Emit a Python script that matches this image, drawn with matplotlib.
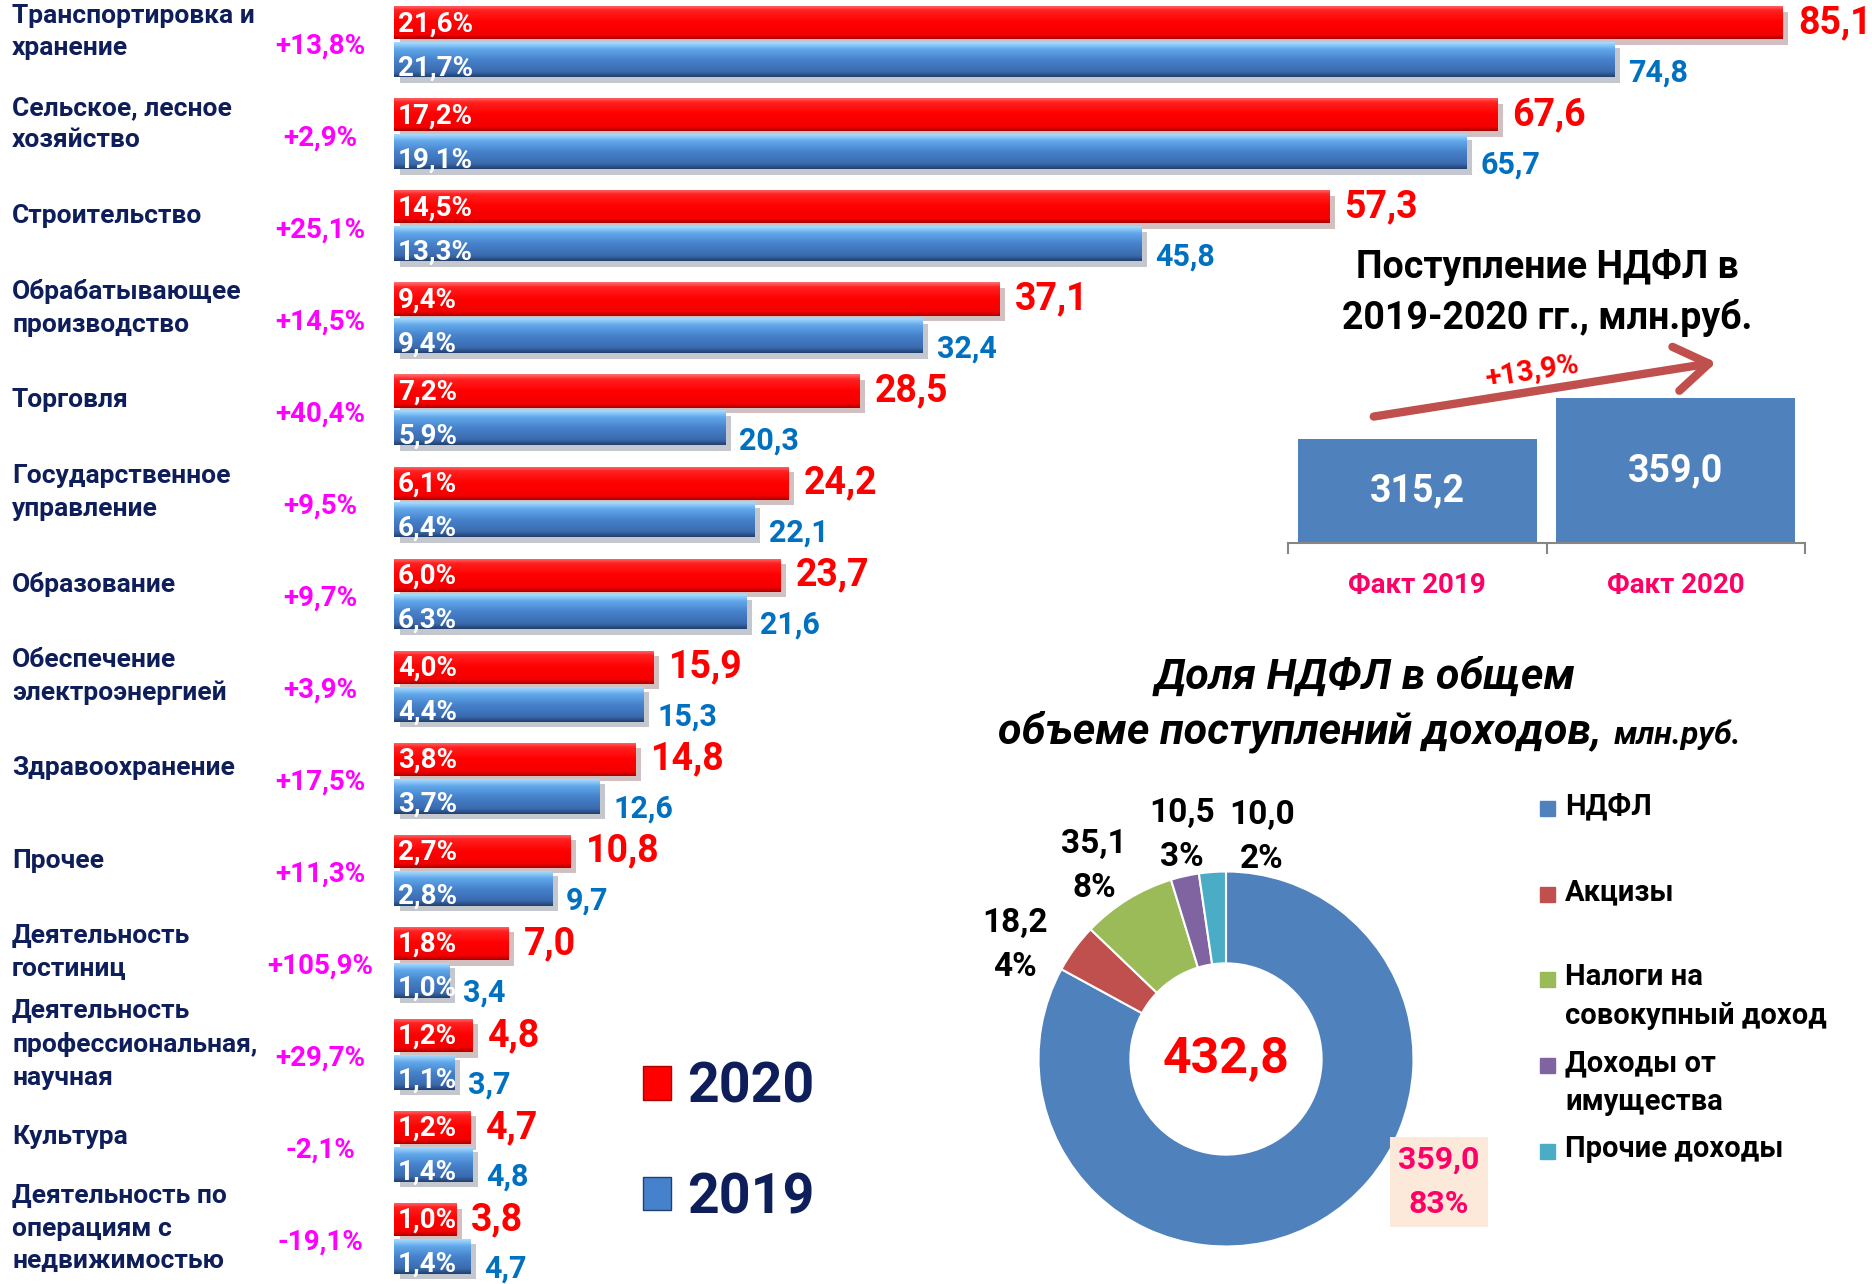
import numpy as np
import matplotlib
matplotlib.use('Agg')
import matplotlib.pyplot as plt
import matplotlib.patheffects as pe
from matplotlib.colors import LinearSegmentedColormap
from matplotlib.patches import Rectangle, FancyArrowPatch, Patch
from matplotlib.transforms import blended_transform_factory

# --- данные ---
otrasli = ['Транспортировка и\nхранение', 'Сельское, лесное\nхозяйство', 'Строительство',
           'Обрабатывающее\nпроизводство', 'Торговля', 'Государственное\nуправление',
           'Образование', 'Обеспечение\nэлектроэнергией', 'Здравоохранение', 'Прочее',
           'Деятельность\nгостиниц', 'Деятельность\nпрофессиональная,\nнаучная', 'Культура',
           'Деятельность по\nоперациям с\nнедвижимостью']
v2020 = [85.1, 67.6, 57.3, 37.1, 28.5, 24.2, 23.7, 15.9, 14.8, 10.8, 7.0, 4.8, 4.7, 3.8]
v2019 = [74.8, 65.7, 45.8, 32.4, 20.3, 22.1, 21.6, 15.3, 12.6, 9.7, 3.4, 3.7, 4.8, 4.7]
dolya2020 = [21.6, 17.2, 14.5, 9.4, 7.2, 6.1, 6.0, 4.0, 3.8, 2.7, 1.8, 1.2, 1.2, 1.0]
dolya2019 = [21.7, 19.1, 13.3, 9.4, 5.9, 6.4, 6.3, 4.4, 3.7, 2.8, 1.0, 1.1, 1.4, 1.4]
prirost = ['+13,8%', '+2,9%', '+25,1%', '+14,5%', '+40,4%', '+9,5%', '+9,7%', '+3,9%',
           '+17,5%', '+11,3%', '+105,9%', '+29,7%', '-2,1%', '-19,1%']

ndfl_let = ['Факт 2019', 'Факт 2020']
ndfl_val = [315.2, 359.0]
ndfl_rost = '+13,9%'

dohody = ['НДФЛ', 'Акцизы', 'Налоги на\nсовокупный доход', 'Доходы от\nимущества', 'Прочие доходы']
dohody_val = [359.0, 18.2, 35.1, 10.5, 10.0]
dohody_pct = ['83%', '4%', '8%', '3%', '2%']
dohody_itogo = '432,8'

W, H = 1872, 1284
SHRIFT = ['Roboto', 'DejaVu Sans']
NAVY = '#0e1e5a'


def fx(px):
    return px / W


def fy(py):
    return 1 - py / H


def zpt(v):
    return f'{v:.1f}'.replace('.', ',')


def gradient(ax, bar, cmap):
    # заливка столбца градиентом (как в PowerPoint)
    x0, y0 = bar.get_xy()
    w, h = bar.get_width(), bar.get_height()
    im = ax.imshow(np.linspace(0, 1, 100).reshape(-1, 1), extent=(x0, x0 + w, y0, y0 + h),
                   origin='lower', aspect='auto', cmap=cmap, interpolation='bilinear',
                   zorder=bar.get_zorder() + 0.05)
    im.set_clip_path(bar)


red_cmap = LinearSegmentedColormap.from_list('r', [(0, '#ff7070'), (0.15, '#ff2020'), (0.5, '#ff0000'),
                                                   (0.88, '#f20000'), (1, '#a80000')])
blue_cmap = LinearSegmentedColormap.from_list('b', [(0, '#a8dcff'), (0.2, '#62a8ea'), (0.5, '#4682cc'),
                                                    (0.85, '#3a6aae'), (1, '#22406e')])

fig = plt.figure(figsize=(W / 100, H / 100), dpi=100)

# --- отрасли ---
ax = fig.add_axes([fx(394), 0, 1 - fx(394), 1])
ax.axis('off')
n = len(otrasli)
y = np.arange(n)
ten = [pe.SimplePatchShadow(offset=(4, -4), alpha=0.25), pe.Normal()]
bars_r = ax.barh(y - 0.2, v2020, height=0.36, color='#ff0000', zorder=3, path_effects=ten)
bars_b = ax.barh(y + 0.2, v2019, height=0.38, color='#4682cc', zorder=3, path_effects=ten)
for b in bars_r:
    gradient(ax, b, red_cmap)
for b in bars_b:
    gradient(ax, b, blue_cmap)

tr = blended_transform_factory(fig.transFigure, ax.transData)
for i in range(n):
    t = ax.text(0.25, y[i] - 0.19, zpt(dolya2020[i]) + '%', color='white', fontsize=20,
                fontweight='bold', family=SHRIFT, ha='left', va='center', zorder=5)
    t.set_clip_path(bars_r[i])
    t = ax.text(0.25, y[i] + 0.29, zpt(dolya2019[i]) + '%', color='white', fontsize=20,
                fontweight='bold', family=SHRIFT, ha='left', va='center', zorder=5)
    t.set_clip_path(bars_b[i])
    ax.annotate(zpt(v2020[i]), xy=(v2020[i], y[i] - 0.2), xytext=(11, 0), textcoords='offset points',
                ha='left', va='center', color='#ff0000', fontsize=27, fontweight='bold', family=SHRIFT)
    ax.annotate(zpt(v2019[i]), xy=(v2019[i], y[i] + 0.2), xytext=(10, -9), textcoords='offset points',
                ha='left', va='center', color='#0070c0', fontsize=22, fontweight='bold', family=SHRIFT)
    ax.text(fx(12), y[i] - 0.1, otrasli[i], transform=tr, ha='left', va='center', color=NAVY,
            fontsize=19, fontweight='bold', family=SHRIFT, linespacing=1.45)
    ax.text(fx(320), y[i] + 0.05, prirost[i], transform=tr, ha='center', va='center',
            color='#ff00ff', fontsize=20, fontweight='bold', family=SHRIFT)

ax.set_xlim(0, (W - 394) / 16.32)
ax.set_ylim(13.50, -0.4475)

fig.legend(handles=[Patch(facecolor='#ff0000', edgecolor='#b00000'),
                    Patch(facecolor='#4682cc', edgecolor='#22406e')],
           labels=['2020', '2019'], loc='center left', bbox_to_anchor=(fx(643), fy(1143)),
           frameon=False, prop=dict(family=SHRIFT, weight='bold', size=40), labelcolor=NAVY,
           handlelength=0.5, handleheight=0.55, handletextpad=0.3, labelspacing=1.05,
           borderpad=0, borderaxespad=0)

# --- поступление НДФЛ ---
ax2 = fig.add_axes([fx(1288), fy(543), fx(517), 161 / H])
ax2.patch.set_alpha(0)
niz = 203
ax2.bar(range(len(ndfl_val)), ndfl_val, width=0.924, color='#4f81bd', zorder=2)
for i, v in enumerate(ndfl_val):
    ax2.text(i, (v + niz) / 2, zpt(v), ha='center', va='center', color='white', fontsize=27,
             fontweight='bold', family=SHRIFT)
ax2.set_ylim(niz, 376.7)
ax2.set_xlim(-0.5, 1.5)
for s in ['top', 'left', 'right']:
    ax2.spines[s].set_visible(False)
ax2.spines['bottom'].set_color('#868686')
ax2.spines['bottom'].set_linewidth(1.5)
ax2.set_yticks([])
ax2.set_xticks(range(len(ndfl_let)))
ax2.set_xticklabels(ndfl_let, fontweight='bold', family=SHRIFT)
ax2.set_xticks([-0.5, 0.5, 1.5], minor=True)
ax2.tick_params(axis='x', which='major', length=0, pad=21, labelsize=20, labelcolor='#ff0066')
ax2.tick_params(axis='x', which='minor', length=8, width=1.5, color='#868686')

fig.text(fx(1547), fy(293), 'Поступление НДФЛ в\n2019-2020 гг., млн.руб.', ha='center', va='center',
         fontsize=27, fontweight='bold', linespacing=1.45, family=SHRIFT)
fig.add_artist(FancyArrowPatch((fx(1371), fy(417)), (fx(1719), fy(362)), transform=fig.transFigure,
                               arrowstyle='->,head_length=0.6,head_width=0.4', mutation_scale=40,
                               color='#c0504d', lw=6))
fig.text(fx(1532), fy(371), ndfl_rost, rotation=9, ha='center', va='center', color='#ff0000',
         fontsize=21, fontweight='bold', family=SHRIFT)

# --- доля НДФЛ (кольцо) ---
R = 187.5
side = 640
L = side / (2 * R)
ax3 = fig.add_axes([fx(1226 - side / 2), fy(1059 + side / 2), fx(side), side / H])
cvet = ['#4f81bd', '#c0504d', '#9bbb59', '#8064a2', '#4bacc6']
wedges, _ = ax3.pie(dohody_val, colors=cvet, startangle=90, counterclock=False, radius=1,
                    wedgeprops=dict(width=0.49, edgecolor='white', linewidth=1.5))
ax3.set_xlim(-L, L)
ax3.set_ylim(-L, L)
ax3.axis('off')
ax3.text(0, 0, dohody_itogo, ha='center', va='center', color='#ff0000', fontsize=36,
         fontweight='bold', family=SHRIFT)

podpisi = [(1.136, -0.656), (-1.125, 0.608), (-0.704, 1.029), (-0.235, 1.195), (0.192, 1.184)]
for i, (px, py) in enumerate(podpisi):
    txt = zpt(dohody_val[i]) + '\n' + dohody_pct[i]
    if i == 0:
        ax3.text(px, py, txt, ha='center', va='center', color='#ff0066', fontsize=23,
                 fontweight='bold', family=SHRIFT, linespacing=1.6,
                 bbox=dict(boxstyle='square,pad=0.25', fc='#fde9d9', ec='none'))
    else:
        ax3.text(px, py, txt, ha='center', va='center', color='black', fontsize=24,
                 fontweight='bold', family=SHRIFT, linespacing=1.5)

fig.text(fx(1365), fy(689), 'Доля НДФЛ в общем', ha='center', va='baseline', fontsize=31,
         fontweight='bold', style='italic', family=SHRIFT)
t_a = fig.text(0, fy(744), 'объеме поступлений доходов,', ha='left', va='baseline', fontsize=31,
               fontweight='bold', style='italic', family=SHRIFT)
t_b = fig.text(0, fy(744), 'млн.руб.', ha='left', va='baseline', fontsize=23,
               fontweight='bold', style='italic', family=SHRIFT)
rend = fig.canvas.get_renderer()
wa = t_a.get_window_extent(rend).width
wb = t_b.get_window_extent(rend).width
x0 = 1370 - (wa + 12 + wb) / 2
t_a.set_x(fx(x0))
t_b.set_x(fx(x0 + wa + 12))

leg_y = [808, 894, 979, 1065, 1151]
for lab, c, ly in zip(dohody, cvet, leg_y):
    fig.add_artist(Rectangle((fx(1540), fy(ly + 8)), fx(15), 15 / H, transform=fig.transFigure,
                             color=c))
    fig.text(fx(1565), fy(ly - 16), lab, ha='left', va='top', fontsize=21, fontweight='bold',
             family=SHRIFT, linespacing=1.48)

fig.savefig('out.png', dpi=100)
